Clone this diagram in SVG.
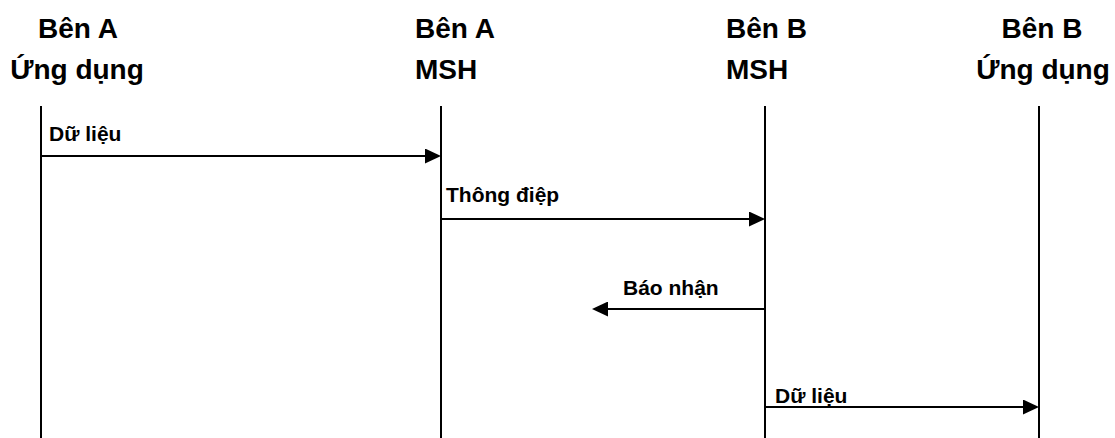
<svg xmlns="http://www.w3.org/2000/svg" width="1115" height="438" viewBox="0 0 1115 438">
  <style>
    .head { font-family: "Liberation Sans", Arial, sans-serif; font-weight: bold; font-size: 28px; fill: #000; }
    .lbl { font-family: "Liberation Sans", Arial, sans-serif; font-weight: bold; font-size: 21px; fill: #000; }
    .life { stroke: #000; stroke-width: 2; fill: none; }
    .msg { stroke: #000; stroke-width: 2; fill: none; marker-end: url(#arrow); }
  </style>
  <defs>
    <marker id="arrow" markerUnits="userSpaceOnUse" markerWidth="16" markerHeight="15" refX="2" refY="7.5" orient="auto">
      <path d="M0,0 L16,7.5 L0,15 Z" fill="#000"/>
    </marker>
  </defs>
  <rect width="1115" height="438" fill="#fff"/>

  <!-- participants with their lifelines -->
  <g id="app-a">
    <text class="head" x="78" y="38" text-anchor="middle">Bên A</text>
    <text class="head" x="77" y="79" text-anchor="middle">Ứng dụng</text>
    <line class="life" x1="41" y1="106" x2="41" y2="438"/>
  </g>
  <g id="msh-a">
    <text class="head" x="415" y="38">Bên A</text>
    <text class="head" x="415" y="79">MSH</text>
    <line class="life" x1="441" y1="106" x2="441" y2="438"/>
  </g>
  <g id="msh-b">
    <text class="head" x="726" y="38">Bên B</text>
    <text class="head" x="726" y="79">MSH</text>
    <line class="life" x1="765" y1="106" x2="765" y2="438"/>
  </g>
  <g id="app-b">
    <text class="head" x="1042" y="38" text-anchor="middle">Bên B</text>
    <text class="head" x="1043" y="79" text-anchor="middle">Ứng dụng</text>
    <line class="life" x1="1039" y1="106" x2="1039" y2="438"/>
  </g>

  <!-- messages -->
  <g id="connectors">
    <path class="msg" d="M41,156 H427"/>
    <text class="lbl" x="49" y="141">Dữ liệu</text>

    <path class="msg" d="M441,219 H751"/>
    <text class="lbl" x="446" y="202">Thông điệp</text>

    <path class="msg" d="M765,309 H606"/>
    <text class="lbl" x="623" y="295">Báo nhận</text>

    <path class="msg" d="M765,407 H1025"/>
    <text class="lbl" x="775" y="403">Dữ liệu</text>
  </g>
</svg>
